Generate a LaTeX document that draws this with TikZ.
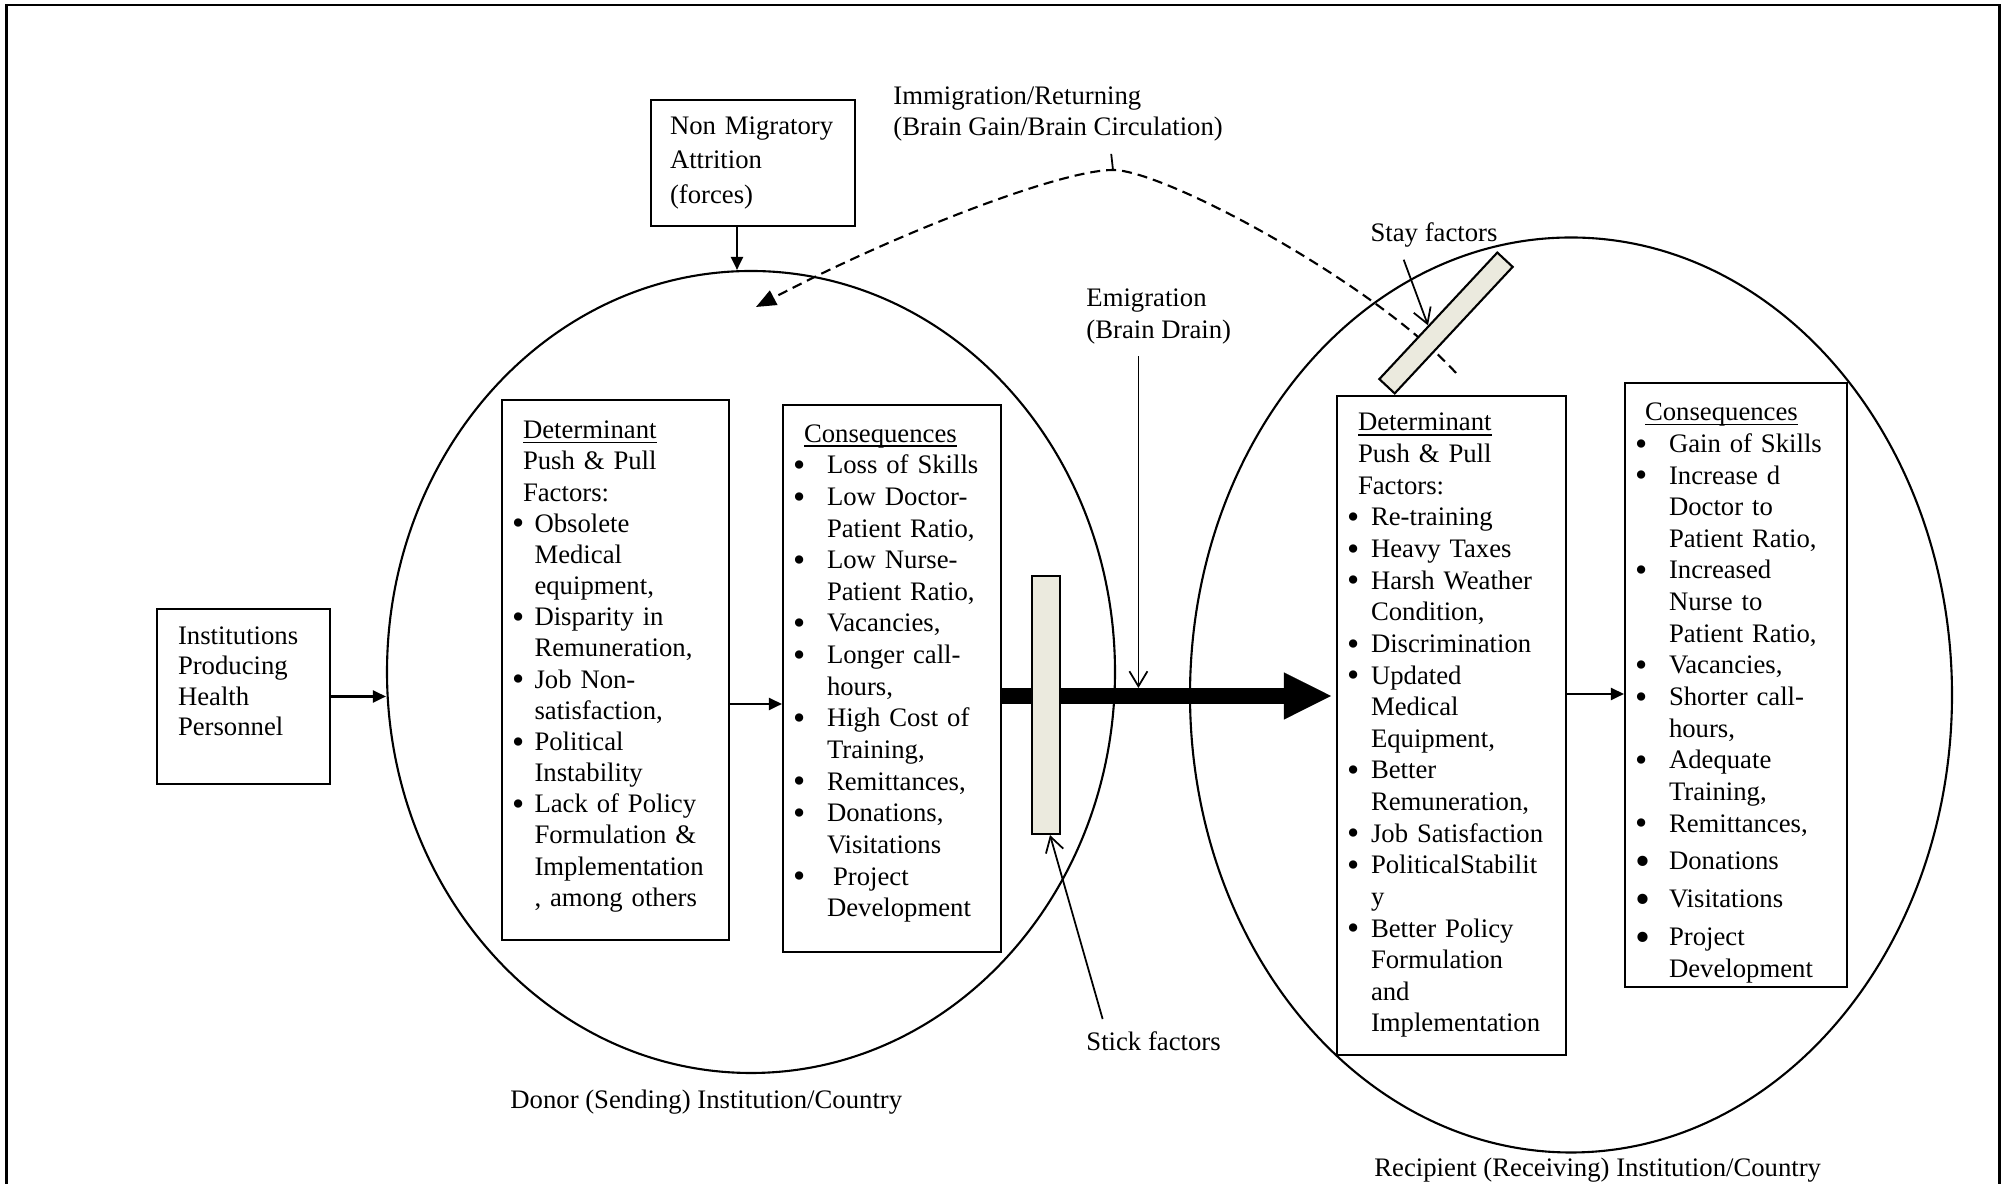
\documentclass[tikz,border=0pt]{standalone}
\usepackage{fontspec}
\setmainfont{Liberation Serif}
\usetikzlibrary{shapes.geometric,arrows.meta,calc}

\definecolor{barfill}{RGB}{235,234,222}
\newlength{\bulw}
\newsavebox{\ulbox}
\newcommand{\bitem}{\makebox[\bulw][l]{\raisebox{-0.1em}{\scalebox{1.3}{\textbullet}}}}
\newcommand{\bigbitem}{\makebox[\bulw][l]{\raisebox{-0.2em}{\scalebox{1.6}{\textbullet}}}}
\newcommand{\bpad}{\hspace*{\bulw}}
\newcommand{\hpad}{\hspace*{0.11cm}}
\newcommand{\uln}[1]{\sbox{\ulbox}{#1}\rlap{\rule[-1.3pt]{\wd\ulbox}{0.45pt}}\usebox{\ulbox}}

\begin{document}
\begin{tikzpicture}
   \tikzstyle{every node}=[font=\fontsize{7.6}{9}\selectfont]
   \tikzstyle{box}=[draw, fill=white, line width=0.6pt, rectangle, inner xsep=0.1cm, inner ysep=0pt, align=left]
   \tikzstyle{region}=[draw, ellipse, line width=0.6pt, inner sep=0pt]
   \tikzstyle{bar}=[draw, fill=barfill, line width=0.6pt, rectangle, inner sep=0pt]
   \tikzstyle{arr}=[line width=0.6pt, -{Triangle[length=0.13cm,width=0.12cm]}]
   \tikzstyle{lead}=[line width=0.5pt, -{Straight Barb[length=0.15cm,width=0.18cm]}]

\useasboundingbox (0,0) rectangle (20.03,11.84);
\draw[line width=0.75pt] (0.065,0) -- (0.065,11.79) -- (19.995,11.79) -- (19.995,0);

% sending and receiving side
\node[region, minimum width=7.28cm, minimum height=8.02cm] (donor) at (7.51,5.12) {};
\node[region, minimum width=7.62cm, minimum height=9.15cm] (recip) at (15.71,4.89) {};

% return flow
\coordinate (back) at (14.56,8.11);
\coordinate (home) at (7.56,8.77);
\coordinate (peak) at (11.13,10.14);
\draw[line width=0.6pt, dash pattern=on 0.1cm off 0.06cm, -{Triangle[length=0.2cm,width=0.16cm]}]
    (back) .. controls (13.75,9.0) and (11.65,10.14) .. (peak)
           .. controls (10.6,10.14) and (8.95,9.5) .. (home);

\node[box, text width=1.31cm, inner xsep=0.21cm, minimum height=1.75cm,
      font=\fontsize{7.6}{8.7}\selectfont] (inst) at (2.435,4.875)
    {Institutions\\Producing\\Health\\Personnel\\~};
\node[box, text width=1.66cm, inner xsep=0.19cm, minimum height=1.26cm,
      font=\fontsize{7.6}{9.8}\selectfont] (nm) at (7.53,10.21)
    {Non Migratory\\Attrition\\(forces)};

\node[box, text width=2.07cm, minimum height=5.40cm, font=\fontsize{7.6}{8.87}\selectfont,
      execute at begin node={\setlength{\bulw}{0.225cm}}] (ldet) at (6.155,5.14)
    {\hpad\uln{Determinant}\\
     \hpad Push \& Pull\\
     \hpad Factors:\\
     \bitem Obsolete\\
     \bpad Medical\\
     \bpad equipment,\\
     \bitem Disparity in\\
     \bpad Remuneration,\\
     \bitem Job Non-\\
     \bpad satisfaction,\\
     \bitem Political\\
     \bpad Instability\\
     \bitem Lack of Policy\\
     \bpad Formulation \&\\
     \bpad Implementation\\
     \bpad , among others\rule[-3.6pt]{0pt}{0pt}};

\node[box, text width=1.98cm, minimum height=5.47cm,
      execute at begin node={\setlength{\bulw}{0.34cm}}] (lcons) at (8.92,5.055)
    {\hpad\uln{Consequences}\\
     \bitem Loss of Skills\\
     \bitem Low Doctor-\\
     \bpad Patient Ratio,\\
     \bitem Low Nurse-\\
     \bpad Patient Ratio,\\
     \bitem Vacancies,\\
     \bitem Longer call-\\
     \bpad hours,\\
     \bitem High Cost of\\
     \bpad Training,\\
     \bitem Remittances,\\
     \bitem Donations,\\
     \bpad Visitations\\
     \bitem \hspace{0.06cm}Project\\
     \bpad Development\rule[-4.5pt]{0pt}{0pt}};

\node[box, text width=2.09cm, minimum height=6.59cm,
      execute at begin node={\setlength{\bulw}{0.24cm}}] (rdet) at (14.515,4.585)
    {\hpad\uln{Determinant}\\
     \hpad Push \& Pull\\
     \hpad Factors:\\
     \bitem Re-training\\
     \bitem Heavy Taxes\\
     \bitem Harsh Weather\\
     \bpad Condition,\\
     \bitem Discrimination\\
     \bitem Updated\\
     \bpad Medical\\
     \bpad Equipment,\\
     \bitem Better\\
     \bpad Remuneration,\\
     \bitem Job Satisfaction\\
     \bitem PoliticalStabilit\\
     \bpad y\\
     \bitem Better Policy\\
     \bpad Formulation\\
     \bpad and\\
     \bpad Implementation};

\node[box, text width=2.02cm, minimum height=6.04cm,
      execute at begin node={\setlength{\bulw}{0.34cm}}] (rcons) at (17.36,4.99)
    {\rule{0pt}{9.7pt}\hspace*{0.10cm}\uln{Consequences}\\
     \bitem Gain of Skills\\
     \bitem Increase d\\
     \bpad Doctor to\\
     \bpad Patient Ratio,\\
     \bitem Increased\\
     \bpad Nurse to\\
     \bpad Patient Ratio,\\
     \bitem Vacancies,\\
     \bitem Shorter call-\\
     \bpad hours,\\
     \bitem Adequate\\
     \bpad Training,\\
     \bitem Remittances,\\[1.8pt]
     \bigbitem Donations\\[1.8pt]
     \bigbitem Visitations\\[1.8pt]
     \bigbitem Project\\
     \bpad Development};

\coordinate (lrow) at (0,4.80);
\coordinate (rrow) at (0,4.90);
\coordinate (flow) at (0,4.88);
\coordinate (flowtop) at (0,4.96);
\coordinate (nmx) at (7.37,0);

\draw[arr] (inst.east) -- (inst.east -| donor.west);
\draw[arr] (nm.south -| nmx) -- (donor.north -| nmx);
\draw[arr] (ldet.east |- lrow) -- (lcons.west |- lrow);
\draw[arr] (rdet.east |- rrow) -- (rcons.west |- rrow);

% brain drain
\draw[line width=0.16cm, shorten >=0.05cm, -{Triangle[length=0.47cm,width=0.47cm,line width=0.1pt]}]
    (lcons.east |- flow) -- (rdet.west |- flow);

\node[bar, minimum width=0.28cm, minimum height=2.58cm] (stick) at (10.46,4.79) {};
\node[bar, minimum width=1.73cm, minimum height=0.21cm, rotate=47] (stay) at (14.46,8.61) {};

\node[anchor=west, align=left] (emig) at (10.74,8.675) {Emigration\\(Brain Drain)};
\draw[lead] ($(emig.south west)!0.38!(emig.south east)$) coordinate (emx) -- (emx |- flowtop);

\node[anchor=west] (stickl) at (10.74,1.43) {Stick factors};
\draw[lead] ($(stickl.north west)!0.18!(stickl.north east)$) -- ($(stick.south)+(0.04,0)$);

\node (stayl) at (14.34,9.49) {Stay factors};
\draw[lead] ($(stayl.south west)!0.3!(stayl.south east)$) -- ($(stay.north west)!0.42!(stay.north east)$);

\node[anchor=west, align=left] (immig) at (8.81,10.70) {Immigration/Returning\\(Brain Gain/Brain Circulation)};
\draw[line width=0.5pt] ($(immig.south west)!0.65!(immig.south east)$) -- (peak);

\node[anchor=west] (donorl) at (4.98,0.82) {Donor (Sending) Institution/Country};
\node[anchor=west] (recipl) at (13.62,0.14) {Recipient (Receiving) Institution/Country};

\end{tikzpicture}
\end{document}
